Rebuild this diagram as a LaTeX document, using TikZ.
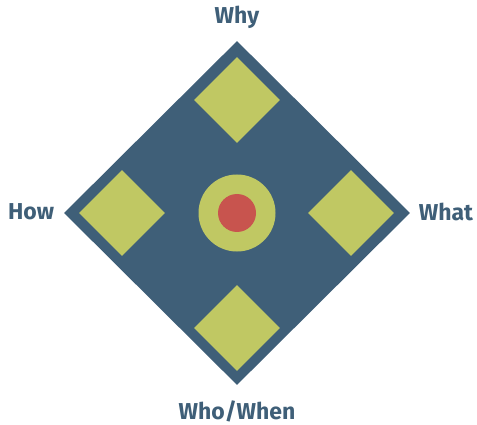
\documentclass[tikz,border=0pt]{standalone}
\usepackage{fontspec}
\setmainfont{Fira Sans}
\usepackage{tikz}
\usetikzlibrary{shapes.geometric, positioning}

\definecolor{slate}{HTML}{3F5F78}
\definecolor{olive}{HTML}{C0C863}
\definecolor{coral}{HTML}{C8544E}

\begin{document}
\begin{tikzpicture}[
  x=1pt, y=-1pt,
  frame/.style={diamond, aspect=1, inner sep=0pt, fill=slate, minimum width=346pt, minimum height=344pt},
  tile/.style={diamond, aspect=1, inner sep=0pt, fill=olive, minimum width=86pt, minimum height=86pt},
  label/.style={text=slate, font=\fontsize{23}{26}\selectfont\bfseries, inner sep=0pt}
]
\useasboundingbox (0,0) rectangle (477,425);

\node[frame] (core) at (237,213) {};

\node[tile] (why) at (237,100) {};
\node[tile] (how) at (122,213) {};
\node[tile] (what) at (351,213) {};
\node[tile] (who) at (237,328) {};

\node[circle, fill=olive, minimum size=77pt, inner sep=0pt] (ring) at (237,213) {};
\node[circle, fill=coral, minimum size=38pt, inner sep=0pt] (dot) at (ring.center) {};

\node[label] (lwhy) at (237,17) {Why};
\node[label] (lhow) at (31,212) {How};
\node[label] (lwhat) at (446,212) {What};
\node[label] (lwho) at (237,411) {Who/When};
\end{tikzpicture}
\end{document}
